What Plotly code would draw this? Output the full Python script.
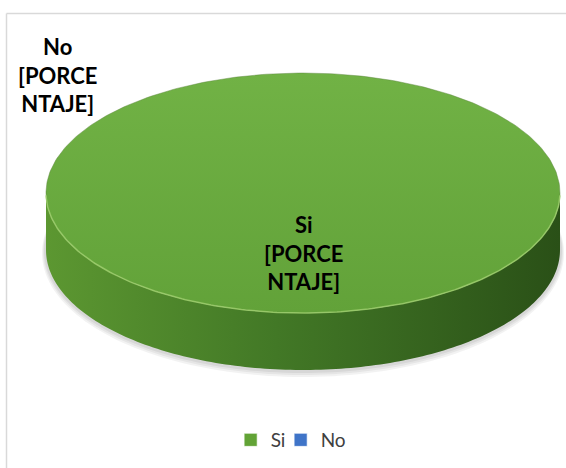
import numpy as np
import plotly.graph_objects as go

# Survey answers
categories = ["Si", "No"]
values = [100, 0]
label_text = ["[PORCENTAJE]", "[PORCENTAJE]"]

# Styling
top_colors = {"Si": ("#71b245", "#62a239"), "No": ("#5b8fd6", "#3c6fc4")}
side_colors = {"Si": ("#5c9731", "#2a5017"), "No": ("#3c6fc4", "#1f3f78")}
legend_colors = {"Si": "#62a336", "No": "#3f74c8"}

W, H = 566, 468
CX, CY = 303, 193      # centre of the top face
RX, RY = 257, 120      # radii of the top face
DEPTH = 57             # thickness of the disc

fig = go.Figure()

total = float(sum(values))
start = -np.pi / 2     # slices start at 12 o'clock, clockwise
shadow_t = np.linspace(0, 2 * np.pi, 200)

# soft drop shadow under the disc
for k, op in enumerate([0.05, 0.05, 0.06]):
    fig.add_trace(go.Scatter(
        x=CX + (RX + 4 - k) * np.cos(shadow_t),
        y=CY + DEPTH + 3 - k + (RY + 4 - k) * np.sin(shadow_t),
        fill="toself", mode="none", fillcolor=f"rgba(0,0,0,{op})",
        showlegend=False, hoverinfo="skip"))

slices = []
for cat, v in zip(categories, values):
    sweep = 2 * np.pi * v / total
    slices.append((cat, start, start + sweep))
    start += sweep

# outer wall: only the part facing the viewer (sin t > 0)
for cat, a0, a1 in slices:
    if a1 - a0 <= 0:
        continue
    for lo, hi in [(0, np.pi), (2 * np.pi, 3 * np.pi), (-2 * np.pi, -np.pi)]:
        s, e = max(a0, lo), min(a1, hi)
        if e <= s:
            continue
        t = np.linspace(s, e, 160)
        xs = CX + RX * np.cos(t)
        ys = CY + RY * np.sin(t)
        px = np.concatenate([xs, xs[::-1]])
        py = np.concatenate([ys, (ys + DEPTH)[::-1]])
        c0, c1 = side_colors[cat]
        fig.add_trace(go.Scatter(
            x=px, y=py, fill="toself", mode="none",
            fillgradient=dict(type="horizontal",
                              colorscale=[[0, c0], [0.45, "#427826"], [1, c1]]),
            showlegend=False, hoverinfo="skip"))

# top faces
for cat, a0, a1 in slices:
    if a1 - a0 <= 0:
        continue
    t = np.linspace(a0, a1, 360)
    xs = CX + RX * np.cos(t)
    ys = CY + RY * np.sin(t)
    if a1 - a0 < 2 * np.pi - 1e-9:
        xs = np.concatenate([[CX], xs, [CX]])
        ys = np.concatenate([[CY], ys, [CY]])
    c0, c1 = top_colors[cat]
    fig.add_trace(go.Scatter(
        x=xs, y=ys, fill="toself", mode="lines",
        line=dict(color="rgba(90,130,60,0.55)", width=0.8),
        fillgradient=dict(type="vertical", colorscale=[[0, c1], [1, c0]]),
        showlegend=False, hoverinfo="skip"))

# light rim along the front edge of the top face
rim = np.linspace(0.02, np.pi - 0.02, 200)
fig.add_trace(go.Scatter(
    x=CX + RX * np.cos(rim), y=CY + RY * np.sin(rim), mode="lines",
    line=dict(color="rgba(160,210,110,0.8)", width=1.5),
    showlegend=False, hoverinfo="skip"))

# legend entries (a blank trailing entry keeps the last label unclipped)
for cat in categories + [""]:
    fig.add_trace(go.Scatter(
        x=[None], y=[None], mode="markers", name=cat,
        marker=dict(symbol="square", size=13,
                    color=legend_colors.get(cat, "rgba(0,0,0,0)"),
                    line=dict(color="rgba(255,255,255,0.6)" if cat else "rgba(0,0,0,0)",
                              width=1))))

# data labels
label_pos = {"Si": (303, 253), "No": (57, 75)}
for cat in categories:
    x, y = label_pos[cat]
    txt = label_text[categories.index(cat)]
    fig.add_annotation(
        x=x, y=y, xref="x", yref="y", showarrow=False,
        text=f"<b>{cat}<br>{txt[:6]}<br>{txt[6:]}</b>",
        font=dict(family="Lato", size=22, color="#000000"),
        align="center")

# chart border (top and left edges)
fig.add_shape(type="line", xref="paper", yref="paper",
              x0=6.5 / W, x1=1.05, y0=1 - 13.5 / H, y1=1 - 13.5 / H,
              line=dict(color="#d9d9d9", width=1.5), layer="below")
fig.add_shape(type="line", xref="paper", yref="paper",
              x0=6.5 / W, x1=6.5 / W, y0=-0.05, y1=1 - 13.5 / H,
              line=dict(color="#d9d9d9", width=1.5), layer="below")

fig.update_layout(
    width=W, height=H,
    margin=dict(l=0, r=0, t=0, b=0),
    paper_bgcolor="#ffffff", plot_bgcolor="#ffffff",
    xaxis=dict(range=[0, W], visible=False, fixedrange=True),
    yaxis=dict(range=[H, 0], visible=False, fixedrange=True),
    showlegend=True,
    legend=dict(orientation="h", x=0.54, xanchor="center",
                y=1 - 440 / H, yanchor="middle",
                font=dict(family="Lato", size=19, color="#404040"),
                itemwidth=30, entrywidth=5, entrywidthmode="pixels",
                tracegroupgap=0, bgcolor="rgba(0,0,0,0)"),
)

fig.write_html("out.html", config={"displayModeBar": False})
